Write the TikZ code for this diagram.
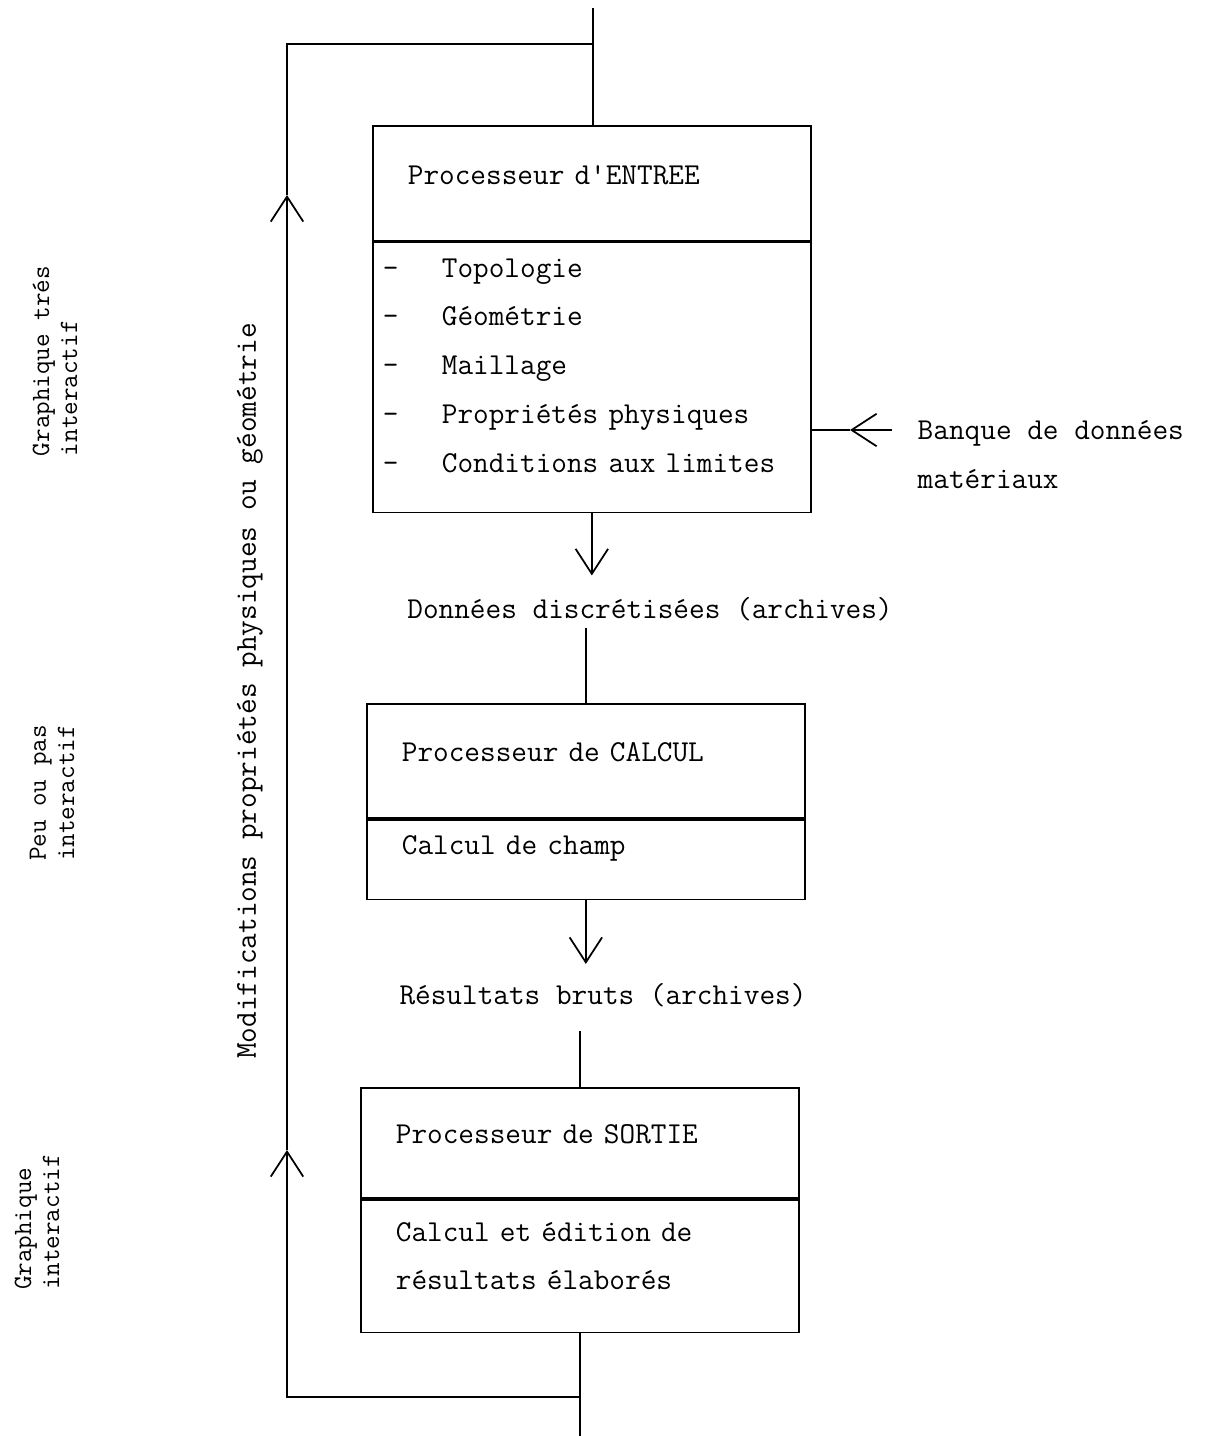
\documentclass[tikz,border=0pt]{standalone}
\usepackage{fontspec}
\usetikzlibrary{arrows.meta}
\newcommand{\typefont}{\fontsize{17.3}{27.8}\selectfont\ttfamily}
\newcommand{\sidefont}{\fontsize{15}{16}\selectfont\ttfamily}
\newcommand{\tiret}{\makebox[1.18cm][l]{-}}

\begin{document}
\begin{tikzpicture}[x=0.02cm, y=-0.02cm, line width=1pt,
  hdr/.style={draw, anchor=north west, align=left, inner xsep=0.7cm, text width=7.36cm, text depth=0.35cm, font=\typefont},
  bodyp/.style={draw, anchor=north west, align=left, inner xsep=0.7cm, text width=7.36cm, font=\typefont},
  txt/.style={font=\typefont},
  side/.style={font=\sidefont, rotate=90, align=left},
  flow/.style={-{Straight Barb[length=0.5cm,width=0.65cm]}}]
\useasboundingbox (0,0) rectangle (1208,1436);

% processeur d'entree
\node (entreeH) at (372,125) [hdr, minimum height=2.3cm] {Processeur d'ENTREE};
\node (entreeB) at (entreeH.south west) [bodyp, inner xsep=0.2cm, text width=8.36cm, text depth=4.39cm, minimum height=5.4cm]
  {\tiret Topologie\\\tiret Géométrie\\\tiret Maillage\\\tiret Propriétés physiques\\\tiret Conditions aux limites};

% processeur de calcul
\node (calculH) at (366,703) [hdr, minimum height=2.28cm] {Processeur de CALCUL};
\node (calculB) at (calculH.south west) [bodyp, text depth=0.57cm, minimum height=1.6cm] {Calcul de champ};

% processeur de sortie
\node (sortieH) at (360,1087) [hdr, minimum height=2.2cm] {Processeur de SORTIE};
\node (sortieB) at (sortieH.south west) [bodyp, text depth=1.38cm, minimum height=2.66cm]
  {Calcul et édition de\\résultats élaborés};

\node (donnees) at (650,609) [txt] {Données discrétisées (archives)};
\node (resultats) at (603,995) [txt] {Résultats bruts (archives)};
\node (banque) at (911,455) [txt, anchor=west, align=left] {Banque de données\\matériaux};

\node (modif) at (250,691) [txt, rotate=90] {Modifications propriétés physiques ou géométrie};
\node (tres) at (55,361) [side] {Graphique trés\\interactif};
\node (peu) at (52,793) [side] {Peu ou pas\\interactif};
\node (graph) at (37,1222) [side] {Graphique\\interactif};

\coordinate (inTop) at (593,8);
\coordinate (fbTop) at (287,44);
\coordinate (fbHigh) at (287,195);
\coordinate (fbLow) at (287,1150);
\coordinate (fbBot) at (287,1397);
\coordinate (outBot) at (570,1436);
\coordinate (banqueIn) at (892,430);
\coordinate (banqueMid) at (850,430);

% chaine principale
\draw (inTop) -- (inTop |- entreeH.north);
\draw[flow, shorten >=0.3cm] (entreeB.south) -- (entreeB.south |- donnees.north);
\draw (donnees.south -| calculH.north) -- (calculH.north);
\draw[flow, shorten >=0.25cm] (calculB.south) -- (calculB.south |- resultats.north);
\draw[shorten <=0.35cm] (resultats.south -| sortieH.north) -- (sortieH.north);
\draw (sortieB.south) -- (sortieB.south |- outBot);

% retour
\draw[flow] (sortieB.south |- fbBot) -- (fbBot) -- (fbLow);
\draw[flow] (fbLow) -- (fbHigh);
\draw (fbHigh) -- (fbTop) -- (fbTop -| inTop);

% banque
\draw[flow] (banqueIn) -- (banqueMid);
\draw (banqueMid) -- (banqueMid -| entreeB.east);
\end{tikzpicture}
\end{document}
